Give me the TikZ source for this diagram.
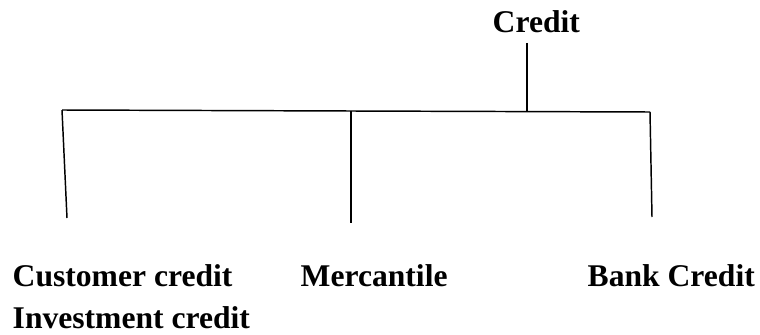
\documentclass[tikz,border=0pt]{standalone}
\usepackage{fontspec}
\setmainfont{Liberation Serif}
\usepackage{tikz}
\usetikzlibrary{positioning}
\tikzset{lbl/.style={inner sep=0pt, anchor=base west, font=\fontsize{23.7}{32}\selectfont\bfseries}}

\begin{document}
\begin{tikzpicture}[x=0.75pt, y=-0.75pt, line width=1.1pt]
\useasboundingbox (0,0) rectangle (760,335);

\node[lbl] (C) at (492,33) {Credit};
\node[lbl] (D1) at (12,286) {Customer credit};
\node[lbl] (D1b) at (12,328) {Investment credit};
\node[lbl] (D2) at (300,286) {Mercantile};
\node[lbl] (D3) at (587,286) {Bank Credit};

\coordinate (T) at (527,43);  \coordinate (J) at (527,111.5);
\coordinate (L) at (62,110);  \coordinate (M) at (351,111);  \coordinate (R) at (650,112);
\coordinate (L1) at (67,218); \coordinate (M1) at (351,223); \coordinate (R1) at (652,217);
\draw (T)--(J);
\draw (L)--(M)--(R);
\draw (L)--(L1);
\draw (M)--(M1);
\draw (R)--(R1);

\end{tikzpicture}
\end{document}
